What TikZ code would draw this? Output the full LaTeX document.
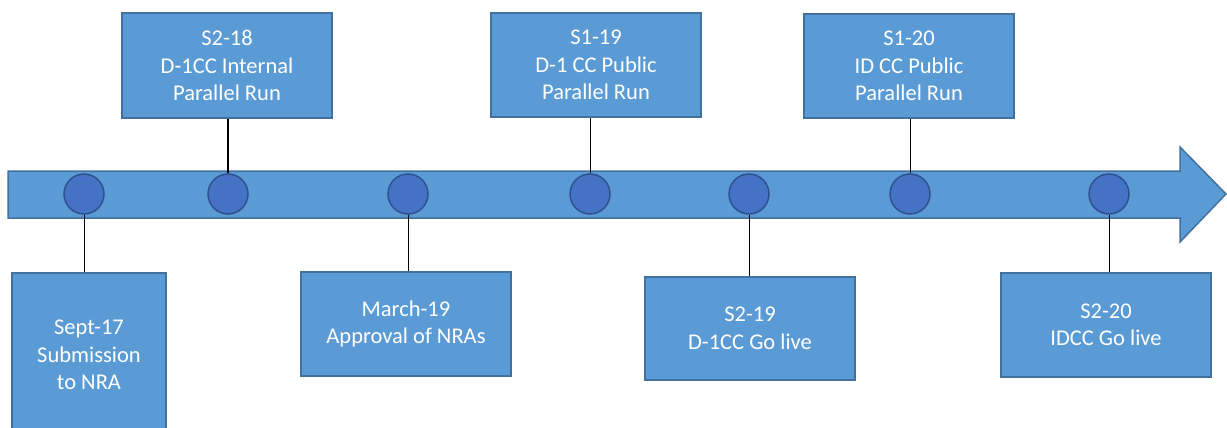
\documentclass[tikz,border=0pt]{standalone}
\usepackage{fontspec}
\setmainfont{Carlito}
\definecolor{boxfill}{HTML}{5B9BD5}
\definecolor{boxline}{HTML}{41719C}
\definecolor{dotfill}{HTML}{4472C4}
\definecolor{dotline}{HTML}{2F528F}
\tikzset{
  evbox/.style={draw=boxline, line width=1.5pt, fill=boxfill, text=white, inner sep=0pt,
    align=center, font=\fontsize{22.5}{27.5}\selectfont},
  dot/.style={circle, draw=dotline, line width=1.5pt, fill=dotfill, minimum size=40pt, inner sep=0pt},
  link/.style={draw=black, line width=0.9pt},
  thicklink/.style={draw=black, line width=2.6pt}
}
\begin{document}
\begin{tikzpicture}[x=1pt,y=-1pt]
\clip (0,0) rectangle (1227,428);
% timeline arrow
\draw[draw=boxline, line width=1.5pt, fill=boxfill] (8,171) -- (1180,171) -- (1180,147) -- (1226,194) -- (1180,242) -- (1180,218) -- (8,218) -- cycle;
% dots
\node[dot] (c1) at (84,194) {};
\node[dot] (c2) at (228,194) {};
\node[dot] (c3) at (408,194) {};
\node[dot] (c4) at (590,194) {};
\node[dot] (c5) at (749,194) {};
\node[dot] (c6) at (910,194) {};
\node[dot] (c7) at (1109,194) {};
% boxes
\node[evbox, minimum width=154pt, minimum height=164pt] (b1) at (89,355) {Sept-17\\Submission\\to NRA};
\node[evbox, minimum width=210pt, minimum height=105pt] (b2) at (227,65.5) {S2-18\\D-1CC Internal\\Parallel Run};
\node[evbox, minimum width=210pt, minimum height=104pt] (b3) at (406,324) {March-19\\Approval of NRAs};
\node[evbox, minimum width=210pt, minimum height=104pt] (b4) at (596,65) {S1-19\\D-1 CC Public\\Parallel Run};
\node[evbox, minimum width=210pt, minimum height=103pt] (b5) at (750,328.5) {S2-19\\D-1CC Go live};
\node[evbox, minimum width=210pt, minimum height=104pt] (b6) at (909,66) {S1-20\\ID CC Public\\Parallel Run};
\node[evbox, minimum width=210pt, minimum height=104pt] (b7) at (1106,325) {S2-20\\IDCC Go live};
% connectors
\draw[link] (c1.south) -- (c1.south |- b1.north);
\draw[thicklink] (c2.north) -- (c2.north |- b2.south);
\draw[link] (c3.south) -- (c3.south |- b3.north);
\draw[link] (c4.north) -- (c4.north |- b4.south);
\draw[link] (c5.south) -- (c5.south |- b5.north);
\draw[link] (c6.north) -- (c6.north |- b6.south);
\draw[link] (c7.south) -- (c7.south |- b7.north);
\end{tikzpicture}
\end{document}
